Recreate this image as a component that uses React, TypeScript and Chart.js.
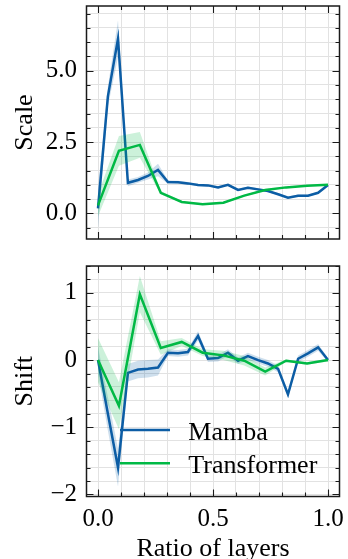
import React, { useEffect, useRef } from 'react';
import { Chart, registerables } from 'chart.js';

Chart.register(...registerables);

// ---------- data ----------
const mambaRatio = [0, 0.043, 0.087, 0.13, 0.174, 0.217, 0.261, 0.304, 0.348, 0.391, 0.435, 0.478, 0.522, 0.565, 0.609, 0.652, 0.696, 0.739, 0.783, 0.826, 0.87, 0.913, 0.957, 1.0];
const transformerRatio = [0, 0.091, 0.182, 0.273, 0.364, 0.455, 0.545, 0.636, 0.727, 0.818, 0.909, 1.0];

const mambaScale = [0.17, 4.1, 6.12, 1.07, 1.17, 1.31, 1.52, 1.1, 1.09, 1.05, 0.99, 0.98, 0.91, 1.0, 0.82, 0.9, 0.84, 0.78, 0.67, 0.55, 0.62, 0.62, 0.72, 0.99];
const mambaScaleStd = [0.7, 0.35, 0.65, 0.12, 0.1, 0.12, 0.22, 0.06, 0.05, 0.05, 0.04, 0.04, 0.04, 0.04, 0.04, 0.04, 0.04, 0.04, 0.04, 0.04, 0.04, 0.04, 0.04, 0.04];
const transformerScale = [0.28, 2.19, 2.4, 0.72, 0.4, 0.32, 0.37, 0.62, 0.82, 0.91, 0.97, 1.0];
const transformerScaleStd = [0.38, 0.52, 0.45, 0.06, 0.03, 0.03, 0.03, 0.03, 0.03, 0.03, 0.02, 0.02];

const mambaShift = [0.0, -0.8, -1.6, -0.19, -0.14, -0.13, -0.11, 0.11, 0.1, 0.12, 0.36, 0.02, 0.03, 0.11, -0.01, 0.06, 0.0, -0.05, -0.13, -0.51, 0.02, 0.1, 0.19, 0.0];
const mambaShiftStd = [0.2, 0.25, 0.28, 0.13, 0.13, 0.13, 0.12, 0.05, 0.05, 0.05, 0.07, 0.05, 0.05, 0.05, 0.05, 0.05, 0.05, 0.05, 0.05, 0.05, 0.05, 0.05, 0.05, 0.03];
const transformerShift = [0.0, -0.68, 0.98, 0.18, 0.27, 0.11, 0.07, -0.01, -0.17, -0.01, -0.05, 0.0];
const transformerShiftStd = [0.33, 0.35, 0.27, 0.1, 0.06, 0.05, 0.07, 0.07, 0.06, 0.02, 0.02, 0.02];

const seriesLabels = ['Mamba', 'Transformer'];
const xTitle = 'Ratio of layers';
const yTitles = ['Scale', 'Shift'];

const xGridTicks = [0, 0.1, 0.2, 0.3, 0.4, 0.5, 0.6, 0.7, 0.8, 0.9, 1.0];
const xMajorTicks = [0, 0.5, 1.0];
const scaleGridTicks = [-0.5, 0, 0.5, 1, 1.5, 2, 2.5, 3, 3.5, 4, 4.5, 5, 5.5, 6, 6.5, 7];
const scaleMajorTicks = [0, 2.5, 5];
const shiftGridTicks = [-2, -1.8, -1.6, -1.4, -1.2, -1, -0.8, -0.6, -0.4, -0.2, 0, 0.2, 0.4, 0.6, 0.8, 1, 1.2, 1.4];
const shiftMajorTicks = [-2, -1, 0, 1];

// ---------- style ----------
const FONT = "'Liberation Serif', 'Times New Roman', serif";
const BLUE = '#0C5DA5';
const GREEN = '#00B945';
const BLUE_BAND = 'rgba(12,93,165,0.2)';
const GREEN_BAND = 'rgba(0,185,69,0.2)';
const GRID = '#e2e2e2';

const isIn = (v: number, arr: number[]) => arr.some((a) => Math.abs(a - v) < 1e-6);

const framePlugin = {
  id: 'frame',
  afterDatasetsDraw(chart: any, _args: any, opts: any) {
    const { ctx, chartArea: a, scales } = chart;
    const xs = scales.x;
    const ys = scales.y;
    ctx.save();
    ctx.strokeStyle = '#1a1a1a';
    ctx.lineWidth = 1.1;
    ctx.beginPath();
    for (const v of opts.xTicks) {
      const px = Math.round(xs.getPixelForValue(v)) + 0.5;
      const len = isIn(v, opts.xMajor) ? 7 : 4;
      ctx.moveTo(px, a.bottom);
      ctx.lineTo(px, a.bottom - len);
      ctx.moveTo(px, a.top);
      ctx.lineTo(px, a.top + len);
    }
    for (const v of opts.yTicks) {
      const py = Math.round(ys.getPixelForValue(v)) + 0.5;
      const len = isIn(v, opts.yMajor) ? 7 : 4;
      ctx.moveTo(a.left, py);
      ctx.lineTo(a.left + len, py);
      ctx.moveTo(a.right, py);
      ctx.lineTo(a.right - len, py);
    }
    ctx.stroke();
    ctx.lineWidth = 1.5;
    ctx.strokeRect(a.left, a.top, a.right - a.left, a.bottom - a.top);
    ctx.restore();
  },
};

const legendPlugin = {
  id: 'innerLegend',
  afterDatasetsDraw(chart: any, _args: any, opts: any) {
    if (!opts || !opts.show) return;
    const { ctx, chartArea: a } = chart;
    const items = chart.data.datasets.filter((d: any) => seriesLabels.includes(d.label));
    ctx.save();
    items.forEach((d: any, k: number) => {
      const y = a.top + 164 + k * 33.3;
      ctx.strokeStyle = d.borderColor;
      ctx.lineWidth = 2.5;
      ctx.beginPath();
      ctx.moveTo(a.left + 33.5, y);
      ctx.lineTo(a.left + 83.5, y);
      ctx.stroke();
      ctx.font = `26px ${FONT}`;
      ctx.fillStyle = '#000';
      ctx.textBaseline = 'alphabetic';
      ctx.textAlign = 'left';
      ctx.fillText(d.label, a.left + 101.8, y + 9.5);
    });
    ctx.restore();
  },
};

const pts = (xs: number[], ys: number[]) => xs.map((x, i) => ({ x, y: ys[i] }));
const ptsOff = (xs: number[], ys: number[], sd: number[], s: number) => xs.map((x, i) => ({ x, y: ys[i] + s * sd[i] }));

const noPad = (s: any) => {
  s.paddingTop = 0;
  s.paddingBottom = 0;
  s.paddingLeft = 0;
  s.paddingRight = 0;
};

function buildConfig(p: any): any {
  const lineDs = (label: string, xs: number[], ys: number[], color: string, order: number) => ({
    label, data: pts(xs, ys), borderColor: color, backgroundColor: color, borderWidth: 2.5,
    pointRadius: 0, tension: 0, fill: false, order,
  });
  const bandDs = (label: string, xs: number[], ys: number[], sd: number[], s: number, color: string, order: number, fill: any) => ({
    label, data: ptsOff(xs, ys, sd, s), borderWidth: 0, borderColor: 'rgba(0,0,0,0)', backgroundColor: color,
    pointRadius: 0, tension: 0, fill, order,
  });
  return {
    type: 'line',
    data: {
      datasets: [
        lineDs(seriesLabels[0], mambaRatio, p.m, BLUE, 2),
        bandDs('m-upper', mambaRatio, p.m, p.ms, 1, BLUE_BAND, 3, '+1'),
        bandDs('m-lower', mambaRatio, p.m, p.ms, -1, BLUE_BAND, 3, false),
        lineDs(seriesLabels[1], transformerRatio, p.t, GREEN, 0),
        bandDs('t-upper', transformerRatio, p.t, p.ts, 1, GREEN_BAND, 1, '+1'),
        bandDs('t-lower', transformerRatio, p.t, p.ts, -1, GREEN_BAND, 1, false),
      ],
    },
    options: {
      responsive: false,
      animation: false,
      devicePixelRatio: 1,
      layout: { padding: { left: 0, right: 8.5, top: p.padTop, bottom: 0 } },
      plugins: {
        legend: { display: false },
        tooltip: { enabled: false },
        frame: { xTicks: xGridTicks, xMajor: xMajorTicks, yTicks: p.yGrid, yMajor: p.yMajor },
        innerLegend: { show: p.legend },
      },
      scales: {
        x: {
          type: 'linear',
          min: -0.05,
          max: 1.05,
          afterBuildTicks: (s: any) => { s.ticks = xGridTicks.map((v) => ({ value: v })); },
          afterFit: (s: any) => { s.height = p.xAxisH; noPad(s); },
          grid: { color: GRID, lineWidth: 1, drawTicks: false },
          border: { display: false },
          ticks: {
            display: p.showX,
            autoSkip: false,
            maxRotation: 0,
            padding: 7.5,
            color: '#000',
            font: { family: FONT, size: 25 },
            callback: (v: any) => (isIn(Number(v), xMajorTicks) ? Number(v).toFixed(1) : ''),
          },
          title: {
            display: p.showX,
            text: xTitle,
            color: '#000',
            font: { family: FONT, size: 26 },
            padding: { top: 0, bottom: 0 },
          },
        },
        y: {
          type: 'linear',
          min: p.yMin,
          max: p.yMax,
          afterBuildTicks: (s: any) => { s.ticks = p.yGrid.map((v: number) => ({ value: v })); },
          afterFit: (s: any) => { s.width = 86.5; noPad(s); },
          grid: { color: GRID, lineWidth: 1, drawTicks: false },
          border: { display: false },
          ticks: {
            autoSkip: false,
            padding: 9.5,
            color: '#000',
            font: { family: FONT, size: 25 },
            callback: (v: any) => (isIn(Number(v), p.yMajor) ? p.fmt(Number(v)) : ''),
          },
          title: {
            display: true,
            text: p.yTitle,
            color: '#000',
            font: { family: FONT, size: 26 },
            padding: { top: 9.4, bottom: 0 },
          },
        },
      },
    },
    plugins: [framePlugin, legendPlugin],
  };
}

export default function App() {
  const topRef = useRef<HTMLCanvasElement>(null);
  const botRef = useRef<HTMLCanvasElement>(null);

  useEffect(() => {
    const top = new Chart(topRef.current as HTMLCanvasElement, buildConfig({
      m: mambaScale, ms: mambaScaleStd, t: transformerScale, ts: transformerScaleStd,
      yMin: -0.9, yMax: 7.27, yGrid: scaleGridTicks, yMajor: scaleMajorTicks,
      fmt: (v: number) => v.toFixed(1), yTitle: yTitles[0], showX: false,
      padTop: 6, xAxisH: 11, legend: false,
    }));
    const bottom = new Chart(botRef.current as HTMLCanvasElement, buildConfig({
      m: mambaShift, ms: mambaShiftStd, t: transformerShift, ts: transformerShiftStd,
      yMin: -2.03, yMax: 1.4, yGrid: shiftGridTicks, yMajor: shiftMajorTicks,
      fmt: (v: number) => String(Math.round(v)).replace('-', '\u2212'), yTitle: yTitles[1], showX: true,
      padTop: 16, xAxisH: 68.5, legend: true,
    }));
    return () => {
      top.destroy();
      bottom.destroy();
    };
  }, []);

  return (
    <div style={{ position: 'fixed', left: 0, top: 0, width: 348, height: 559, background: '#fff', overflow: 'hidden' }}>
      <canvas ref={topRef} width={348} height={250} style={{ position: 'absolute', left: 0, top: 0 }} />
      <canvas ref={botRef} width={348} height={315} style={{ position: 'absolute', left: 0, top: 250 }} />
    </div>
  );
}
